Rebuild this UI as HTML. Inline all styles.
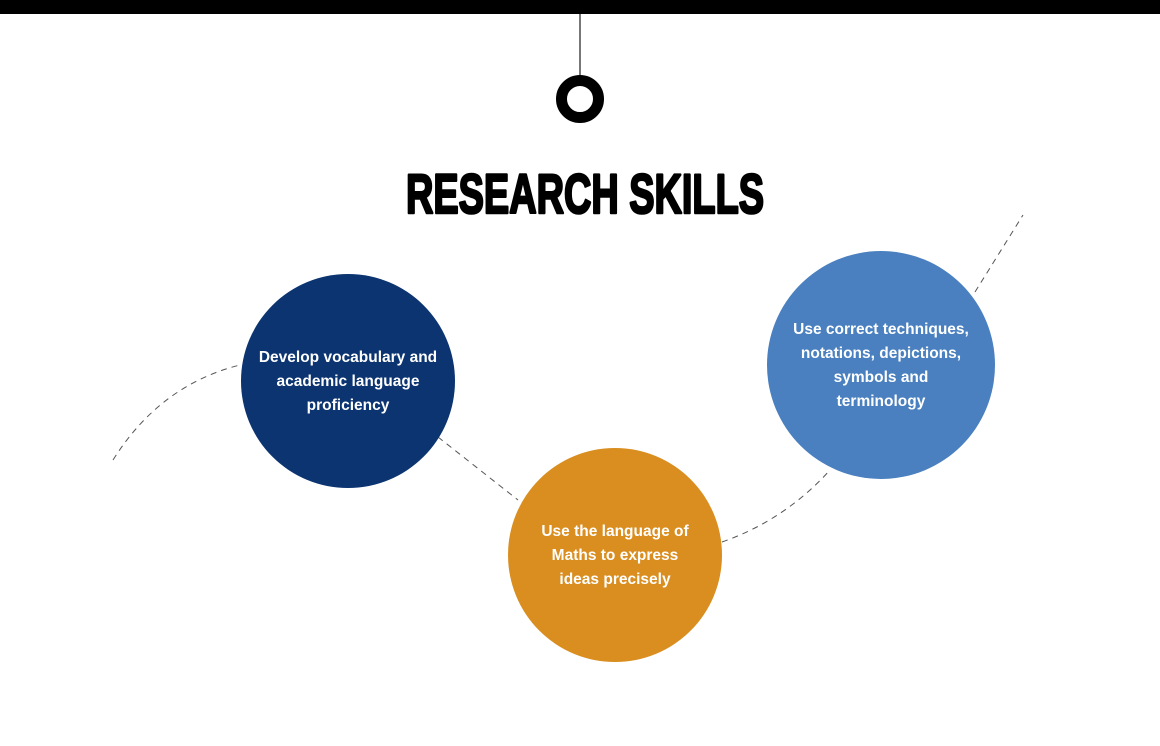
<!DOCTYPE html>
<html><head><meta charset="utf-8"><style>
html,body{margin:0;padding:0;background:#fff;width:1160px;height:746px;overflow:hidden}
</style></head><body>
<svg width="1160" height="746" viewBox="0 0 1160 746" xmlns="http://www.w3.org/2000/svg">
<rect x="0" y="0" width="1160" height="14" fill="#000"/>
<line x1="580" y1="14" x2="580" y2="76" stroke="#777" stroke-width="2"/>
<circle cx="580" cy="99" r="18.5" fill="none" stroke="#000" stroke-width="11"/>
<text x="585" y="213" text-anchor="middle" font-family="'Liberation Sans Narrow','Liberation Sans',sans-serif" font-weight="bold" font-size="56" textLength="358" lengthAdjust="spacingAndGlyphs" fill="#000" stroke="#000" stroke-width="2.6" stroke-linejoin="round">RESEARCH SKILLS</text>
<g fill="none" stroke="#555" stroke-width="1" stroke-dasharray="6,5">
<path d="M113 460 Q160 385 240 365"/>
<path d="M438 437 L518 500"/>
<path d="M722 542 Q785 520 830 470"/>
<path d="M975 292 L1023 215"/>
</g>
<circle cx="348" cy="381" r="107" fill="#0b3471"/>
<circle cx="615" cy="555" r="107" fill="#d98e1f"/>
<circle cx="881" cy="365" r="114" fill="#4a80bf"/>
<g font-family="'Liberation Sans',sans-serif" font-size="15.5" font-weight="600" fill="#fff" text-anchor="middle">
<text x="348" y="362">Develop vocabulary and</text>
<text x="348" y="386">academic language</text>
<text x="348" y="410">proficiency</text>
<text x="615" y="536">Use the language of</text>
<text x="615" y="560">Maths to express</text>
<text x="615" y="584">ideas precisely</text>
<text x="881" y="334">Use correct techniques,</text>
<text x="881" y="358">notations, depictions,</text>
<text x="881" y="382">symbols and</text>
<text x="881" y="406">terminology</text>
</g>
</svg>
</body></html>
